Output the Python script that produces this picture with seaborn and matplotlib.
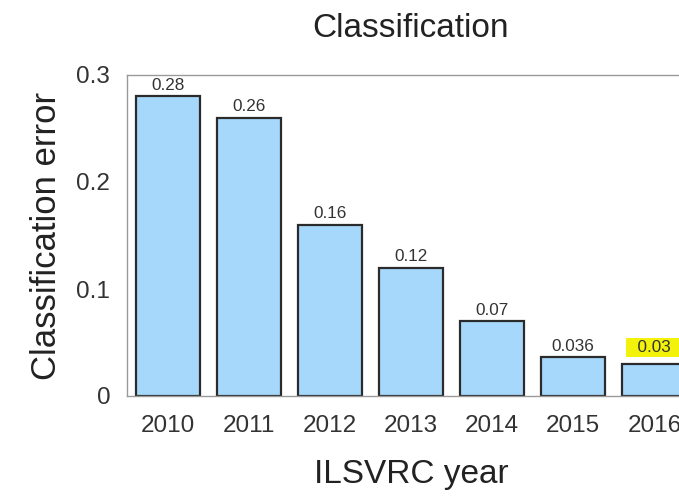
import matplotlib
matplotlib.use("Agg")
import matplotlib.pyplot as plt
import seaborn as sns
import pandas as pd

years = ["2010", "2011", "2012", "2013", "2014", "2015", "2016"]
errors = [0.28, 0.26, 0.16, 0.12, 0.07, 0.036, 0.03]
bar_labels = ["0.28", "0.26", "0.16", "0.12", "0.07", "0.036", "0.03"]
y_ticks = [0, 0.1, 0.2, 0.3]
y_tick_labels = ["0", "0.1", "0.2", "0.3"]

sns.set_theme(style="white")
plt.rcParams["font.family"] = ["Liberation Sans", "DejaVu Sans"]

df = pd.DataFrame({"year": years, "error": errors})

fig = plt.figure(figsize=(6.79, 4.96), dpi=100)
ax = fig.add_axes([127 / 679, 100 / 496, (695 - 127) / 679, (396 - 75) / 496])

sns.barplot(data=df, x="year", y="error", color="#a6d8fb", saturation=1,
            edgecolor="#2b2b2b", linewidth=1.6, width=0.79, ax=ax)

ax.set_xlim(-0.5, 6.5)
ax.set_ylim(0, 0.3)
ax.set_yticks(y_ticks)
ax.set_yticklabels(y_tick_labels)

text_color = "#333333"
ax.tick_params(axis="both", length=0, labelsize=17.5, colors=text_color)
ax.tick_params(axis="x", pad=13.5)
ax.tick_params(axis="y", pad=12)
for sp in ax.spines.values():
    sp.set_color("#9a9a9a")
    sp.set_linewidth(1.0)

ax.set_title("Classification", fontsize=24, color="#222222", pad=27)
ax.set_xlabel("ILSVRC year", fontsize=24, color="#222222", labelpad=16)
ax.set_ylabel("Classification error", fontsize=25, color="#222222", labelpad=10)

last = len(errors) - 1
for i, (v, lab) in enumerate(zip(errors, bar_labels)):
    if i == last:
        ax.annotate("  " + lab + "  ", (i, v), xytext=(0, 6.5),
                    textcoords="offset points", ha="center", va="bottom",
                    fontsize=12.3, color=text_color,
                    bbox=dict(boxstyle="square,pad=0.12", facecolor="#f2f20a",
                              edgecolor="none"))
    else:
        ax.annotate(lab, (i, v), xytext=(0, 2.5), textcoords="offset points",
                    ha="center", va="bottom", fontsize=12.3, color=text_color)

fig.savefig("out.png", dpi=100)
